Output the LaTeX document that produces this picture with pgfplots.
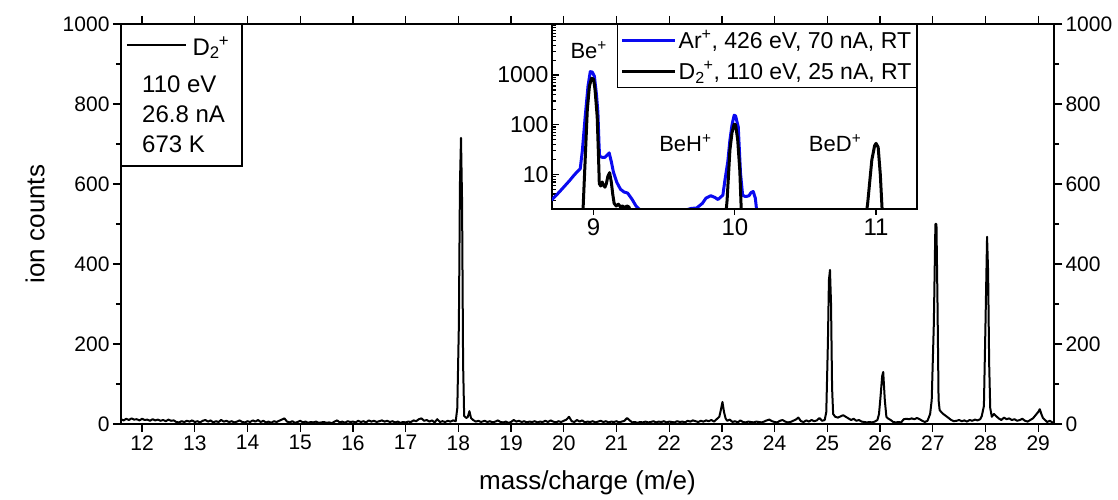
\documentclass[border=0pt]{standalone}
\usepackage{fontspec}
\setmainfont{Liberation Sans}
\usepackage{pgfplots}
\pgfplotsset{compat=1.18,/pgf/number format/assume math mode=true,/pgf/number format/1000 sep={}}
\newcommand{\fs}[1]{\fontsize{#1}{#1}\selectfont}
\definecolor{arblue}{RGB}{10,10,240}
\begin{document}
\begin{tikzpicture}
\useasboundingbox (0,0) rectangle (1118pt,500pt);
% ---------------- main axis ----------------
\begin{axis}[
  at={(121pt,76pt)}, anchor=south west,
  width=933pt, height=400pt, scale only axis,
  xmin=11.6, xmax=29.3, ymin=0, ymax=1000,
  xtick={12,...,29}, ytick={0,200,...,1000}, minor ytick={100,300,...,900},
  tick align=outside, major tick length=8pt, minor tick length=5pt,
  axis line style={line width=1.2pt},
  tick style={line width=1.2pt, black},
  yticklabel pos=left,
  tick label style={font=\fs{21}},
  xlabel={mass/charge (m/e)}, ylabel={ion counts},
  xlabel style={at={(axis description cs:0.5,-0.1475)}, anchor=center, font=\fs{26}},
  ylabel style={at={(axis description cs:-0.092,0.5)}, anchor=center, font=\fs{26}},
]
\addplot[black, line width=2pt, line join=round] coordinates {
(11.60,12) (11.65,9) (11.70,13) (11.75,10) (11.80,14) (11.85,11) (11.90,12) (11.95,9) (12.00,13) (12.05,10)
(12.10,11) (12.15,8) (12.20,12) (12.25,9) (12.30,11) (12.35,8) (12.40,10) (12.45,7) (12.50,11) (12.55,8) (12.60,9)
(12.65,5) (12.70,4) (12.75,7) (12.80,5) (12.85,8) (12.90,6) (12.95,9) (13.00,5) (13.05,7) (13.10,4)
(13.15,8) (13.20,10) (13.25,6) (13.30,9) (13.35,4) (13.40,7) (13.45,5) (13.50,10) (13.55,6) (13.60,8)
(13.65,5) (13.70,7) (13.75,4) (13.80,6) (13.85,9) (13.90,5) (13.95,4) (14.00,7) (14.05,5) (14.10,9)
(14.15,6) (14.20,10) (14.25,5) (14.30,8) (14.35,4) (14.40,6) (14.45,3) (14.50,7) (14.55,5) (14.60,8)
(14.65,11) (14.70,14) (14.75,6) (14.80,4) (14.85,7) (14.90,3) (14.95,5) (15.00,8) (15.05,4) (15.10,6)
(15.15,3) (15.20,5) (15.25,4) (15.30,6) (15.35,3) (15.40,4) (15.45,5) (15.50,3) (15.55,4) (15.60,2)
(15.65,6) (15.70,9) (15.75,4) (15.80,6) (15.85,3) (15.90,7) (15.95,5) (16.00,6) (16.05,4) (16.10,8)
(16.15,5) (16.20,7) (16.25,4) (16.30,9) (16.35,6) (16.40,8) (16.45,5) (16.50,7) (16.55,9) (16.60,6)
(16.65,8) (16.70,5) (16.75,7) (16.80,4) (16.85,6) (16.90,3) (16.95,5) (17.00,4) (17.05,6) (17.10,5)
(17.15,9) (17.20,7) (17.25,12) (17.30,14) (17.35,8) (17.40,10) (17.45,6) (17.50,9) (17.55,4) (17.60,12)
(17.65,5) (17.70,7) (17.75,5) (17.80,8) (17.85,6) (17.90,9) (17.95,7)
(17.98,40) (18.01,250) (18.03,600) (18.05,715) (18.07,560) (18.09,150) (18.11,20) (18.15,15) (18.18,18)
(18.21,32) (18.24,15) (18.28,10) (18.33,6) (18.38,8) (18.43,5)
(18.45,6) (18.50,8) (18.55,5) (18.60,7) (18.65,4) (18.70,6) (18.75,9) (18.80,5) (18.85,4) (18.90,6)
(18.95,3) (19.00,5) (19.05,10) (19.10,6) (19.15,8) (19.20,5) (19.25,7) (19.30,4) (19.35,6) (19.40,5)
(19.45,7) (19.50,4) (19.55,6) (19.60,5) (19.65,8) (19.70,5) (19.75,9) (19.80,6) (19.85,4) (19.90,7)
(19.95,5) (20.00,8) (20.05,11) (20.10,18) (20.15,7) (20.20,5) (20.25,10) (20.30,6) (20.35,9) (20.40,4)
(20.45,6) (20.50,5) (20.55,7) (20.60,4) (20.65,6) (20.70,8) (20.75,5) (20.80,7) (20.85,4) (20.90,6)
(20.95,5) (21.00,7) (21.05,4) (21.10,6) (21.15,8) (21.20,15) (21.25,9) (21.30,4) (21.35,5) (21.40,3)
(21.45,5) (21.50,4) (21.55,6) (21.60,4) (21.65,5) (21.70,7) (21.75,4) (21.80,6) (21.85,5) (21.90,7)
(21.95,4) (22.00,6) (22.05,5) (22.10,4) (22.15,7) (22.20,5) (22.25,6) (22.30,4) (22.35,8) (22.40,6)
(22.45,9) (22.50,7) (22.55,5) (22.60,8) (22.65,6) (22.70,9) (22.75,7) (22.80,10) (22.85,6) (22.90,12)
(22.95,18) (22.98,35) (23.01,55) (23.04,30) (23.07,14) (23.10,8) (23.15,11) (23.20,5) (23.25,7) (23.30,4)
(23.35,9) (23.40,5) (23.45,4) (23.50,6) (23.55,5) (23.60,4) (23.65,6) (23.70,5) (23.75,4) (23.80,6)
(23.85,9) (23.90,11) (23.95,7) (24.00,5) (24.05,4) (24.10,8) (24.15,10) (24.20,6) (24.25,4) (24.30,5)
(24.35,8) (24.40,11) (24.45,16) (24.50,7) (24.55,5) (24.60,9) (24.65,6) (24.70,10) (24.75,7) (24.80,9)
(24.85,15) (24.90,8) (24.95,10) (24.98,30)
(25.01,200) (25.03,360) (25.05,385) (25.07,300) (25.09,90) (25.11,25) (25.15,18) (25.20,16) (25.25,19)
(25.30,22) (25.35,18) (25.40,14) (25.45,10) (25.50,13) (25.55,8) (25.60,10) (25.65,6) (25.70,5) (25.75,4)
(25.80,5) (25.85,4) (25.90,6) (25.95,10) (25.98,25)
(26.01,70) (26.04,120) (26.06,130) (26.09,60) (26.12,18) (26.15,14) (26.20,10) (26.25,5) (26.30,4)
(26.35,5) (26.40,4) (26.45,12) (26.50,13) (26.55,12) (26.60,14) (26.65,12) (26.70,15) (26.75,12)
(26.80,8) (26.85,5) (26.90,8) (26.95,25) (26.98,60)
(27.02,250) (27.05,500) (27.07,500) (27.09,300) (27.11,60) (27.13,35) (27.16,30) (27.20,25) (27.25,20)
(27.30,15) (27.35,10) (27.40,7) (27.45,8) (27.50,10) (27.55,7) (27.60,9) (27.65,6) (27.70,10) (27.75,8)
(27.80,11) (27.85,9) (27.90,12) (27.93,20) (27.97,45)
(28.00,250) (28.03,468) (28.05,380) (28.07,150) (28.09,40) (28.12,18) (28.16,25) (28.20,20) (28.25,14)
(28.30,10) (28.35,16) (28.40,12) (28.45,14) (28.50,10) (28.55,12) (28.60,8) (28.65,10) (28.70,13)
(28.75,8) (28.80,6) (28.85,10) (28.90,14) (28.95,22) (29.00,30) (29.03,37) (29.06,25) (29.09,15)
(29.13,10) (29.17,5) (29.22,8) (29.27,4) (29.30,3)
};
% legend box
\draw[line width=1.2pt, fill=white] (axis description cs:0,1) rectangle (axis description cs:0.1297,0.645);
\draw[line width=2pt] (axis description cs:0.0064,0.9475) -- (axis description cs:0.0696,0.9475);
\node[anchor=west, inner sep=0pt, font=\fs{24}] at (axis description cs:0.0765,0.941) {D\textsubscript{2}\kern-1pt\textsuperscript{+}};
\node[anchor=west, inner sep=0pt, font=\fs{24}] at (axis description cs:0.0225,0.85) {110 eV};
\node[anchor=west, inner sep=0pt, font=\fs{24}] at (axis description cs:0.0225,0.775) {26.8 nA};
\node[anchor=west, inner sep=0pt, font=\fs{24}] at (axis description cs:0.0225,0.70) {673 K};
\end{axis}
% ---------------- right labels ----------------
\begin{axis}[
  at={(121pt,76pt)}, anchor=south west,
  width=933pt, height=400pt, scale only axis,
  xmin=11.6, xmax=29.3, ymin=0, ymax=1000,
  axis x line=none, axis y line*=right,
  ytick={0,200,...,1000}, minor ytick={100,300,...,900},
  tick align=outside, major tick length=8pt, minor tick length=5pt,
  axis line style={line width=1.2pt},
  tick style={line width=1.2pt, black},
  tick label style={font=\fs{21}},
]
\addplot[draw=none] coordinates {(12,0)};
\end{axis}
% ---------------- inset ----------------
\begin{axis}[
  at={(552pt,291pt)}, anchor=south west,
  width=365pt, height=185pt, scale only axis,
  ymode=log, xmin=8.705, xmax=11.29, ymin=2, ymax=10700,
  axis background/.style={fill=white},
  xtick=\empty, ytick={10,100,1000},
  minor ytick={2,3,4,5,6,7,8,9,20,30,40,50,60,70,80,90,200,300,400,500,600,700,800,900,2000,3000,4000,5000,6000,7000,8000,9000,10000},
  log ticks with fixed point,
  ytick pos=left, tick align=inside, major tick length=7pt, minor tick length=4pt,
  axis line style={line width=1.2pt},
  tick style={line width=1.2pt, black},
  tick label style={font=\fs{23}},
  legend style={at={(1,1)}, anchor=north east, draw=black, line width=1.2pt, fill=white,
    font=\fs{23}, inner xsep=3pt, inner ysep=4pt, row sep=7pt, nodes={inner sep=2pt}},
  legend cell align=left,
  legend image code/.code={\draw[#1, line width=3pt] (0pt,0pt) -- (53pt,0pt);},
]
\addplot[arblue, line width=3pt, line join=round] coordinates {
(8.70,3.0) (8.75,4.2) (8.79,5.6) (8.83,7.5) (8.86,9.5) (8.88,11) (8.905,13) (8.92,30) (8.94,145)
(8.96,600) (8.976,1170) (8.99,1150) (9.005,950) (9.02,400) (9.03,180) (9.038,40) (9.042,23) (9.06,22)
(9.08,22) (9.094,24) (9.11,27) (9.125,18) (9.14,11) (9.165,6.8) (9.19,5.0) (9.215,4.4) (9.24,4.2)
(9.27,3.2) (9.30,2.3) (9.33,1.9) (9.36,1.2) (9.60,1.2) (9.65,1.9) (9.69,2.05) (9.73,2.1) (9.77,2.6)
(9.795,3.3) (9.83,3.7) (9.86,3.4) (9.88,3.1) (9.915,3.8) (9.93,7.7) (9.95,18) (9.965,49) (9.98,100)
(9.995,155) (10.005,150) (10.024,91) (10.04,10.5) (10.055,3.8) (10.07,3.6) (10.085,3.6) (10.10,3.7)
(10.115,4.3) (10.13,4.5) (10.145,3.3) (10.155,1.8) (10.17,1.0)
};
\addlegendentry{Ar\textsuperscript{+}, 426 eV, 70 nA, RT}
\addplot[black, line width=3pt, line join=round] coordinates {
(8.90,1.0) (8.925,2.0) (8.94,20) (8.955,200) (8.97,600) (8.985,860) (9.0,820) (9.01,500) (9.025,145)
(9.035,20) (9.04,6.5) (9.05,5.8) (9.06,7) (9.07,6) (9.08,5.5) (9.09,6.5) (9.10,9) (9.113,10.8)
(9.125,7) (9.135,4) (9.145,2.6) (9.16,2.3) (9.175,2.5) (9.19,2.2) (9.205,2.3) (9.22,2.1) (9.235,2.3)
(9.25,2.2) (9.26,1.8) (9.27,1.0) (9.93,1.0) (9.945,3) (9.965,31) (9.98,70) (9.995,102) (10.005,100)
(10.02,50) (10.035,12) (10.045,2) (10.05,1.0) (10.92,1.0) (10.94,2.5) (10.97,19.5) (10.99,38) (11.0,42)
(11.015,35) (11.03,10) (11.045,1.5) (11.06,1.0)
};
\addlegendentry{D\textsubscript{2}\kern-1pt\textsuperscript{+}, 110 eV, 25 nA, RT}
\node[font=\fs{22}] at (axis cs:8.965,3162) {Be\textsuperscript{+}};
\node[font=\fs{22}] at (axis cs:9.65,42) {BeH\textsuperscript{+}};
\node[font=\fs{22}] at (axis cs:10.71,42) {BeD\textsuperscript{+}};
\end{axis}
\begin{axis}[
  at={(552pt,291pt)}, anchor=south west,
  width=365pt, height=185pt, scale only axis,
  xmin=8.705, xmax=11.29, ymin=0, ymax=1,
  hide y axis, axis x line*=bottom,
  xtick={9,10,11}, tick align=outside, major tick length=6pt,
  axis line style={line width=1.2pt},
  tick style={line width=1.2pt, black},
  tick label style={font=\fs{24}},
]
\addplot[draw=none] coordinates {(9,0)};
\end{axis}
\end{tikzpicture}
\end{document}
